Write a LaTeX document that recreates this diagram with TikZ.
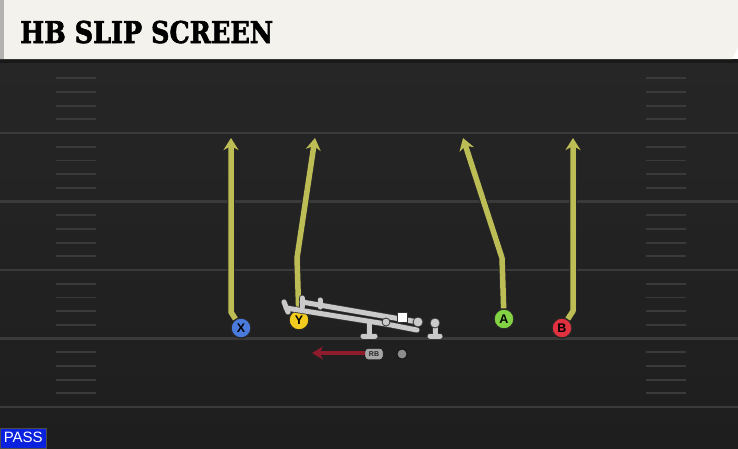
\documentclass[tikz,border=0pt]{standalone}
\usepackage{fontspec}
\setmainfont{Liberation Sans}
\newfontfamily\titlefont{DejaVu Serif}[BoldFeatures={FakeBold=2}]
\usetikzlibrary{arrows.meta}

\definecolor{fieldBg}{HTML}{262626}
\definecolor{fieldDark}{HTML}{1E1E1E}
\definecolor{fieldLine}{HTML}{3A3A3A}
\definecolor{hashCol}{HTML}{3A3A3A}
\definecolor{titleBg}{HTML}{F4F2EC}
\definecolor{routeCol}{HTML}{BDBD55}
\definecolor{olCol}{HTML}{CACACA}
\definecolor{motionCol}{HTML}{8E1C2C}
\definecolor{passBlue}{HTML}{0A22E0}
\definecolor{xBlue}{HTML}{4A7BDC}
\definecolor{yYellow}{HTML}{F2CB1F}
\definecolor{aGreen}{HTML}{82D244}
\definecolor{bRed}{HTML}{E0313F}

\tikzstyle{player}=[draw=black!85,line width=1.3pt,circle,minimum size=20pt,inner sep=0pt,font=\bfseries\fontsize{12.5}{12.5}\selectfont]
\tikzstyle{routeBack}=[draw=black!85,line width=7.5pt,line join=round,-{Stealth[length=14pt,width=18pt]}]
\tikzstyle{route}=[draw=routeCol,line width=5.5pt,line join=round,-{Stealth[length=12pt,width=15pt]}]
\tikzstyle{olBack}=[draw=black!80,line width=6.5pt,line join=round,line cap=round]
\tikzstyle{olLine}=[draw=olCol,line width=5pt,line join=round,line cap=round]
\tikzstyle{olDot}=[circle,fill=olCol,draw=black!80,line width=0.8pt,inner sep=0pt,minimum size=10pt]
\tikzstyle{hash}=[draw=hashCol,line width=1.8pt]
\tikzstyle{yardLine}=[draw=fieldLine,line width=2.5pt]

\begin{document}
\begin{tikzpicture}[x=1pt,y=-1pt]

    \useasboundingbox (0,0) rectangle (738,448);

    % field
    \shade[top color=fieldBg,bottom color=fieldDark] (0,59) rectangle (738,448);
    \fill[black!90] (0,59) rectangle (738,63);
    \foreach \yl in {133,201.5,270,338.5,407}
        \draw[yardLine] (0,\yl) -- (738,\yl);
    \foreach \yl in {64.5,133,201.5,270,338.5}
        \foreach \j in {1,...,4} {
            \draw[hash] (56,\yl+13.7*\j) -- (96,\yl+13.7*\j);
            \draw[hash] (646,\yl+13.7*\j) -- (686,\yl+13.7*\j);
        }

    % title bar
    \fill[titleBg] (0,0) -- (738,0) -- (738,47) -- (732,59) -- (0,59) -- cycle;
    \fill[black!30] (0,0) rectangle (4,59);
    \node[anchor=base west,inner sep=0pt] (title) at (20,43)
        {\scalebox{0.85}[1]{\titlefont\bfseries\fontsize{30}{30}\selectfont HB SLIP SCREEN}};

    % receivers
    \node[player,fill=xBlue] (recX) at (241,328) {X};
    \node[player,fill=yYellow] (recY) at (299,320) {Y};
    \node[player,fill=aGreen] (recA) at (504,319) {A};
    \node[player,fill=bRed] (recB) at (562,328) {B};

    \coordinate (xBreak) at (231,312);
    \coordinate (xEnd) at (231,138);
    \coordinate (yBreak) at (297,258);
    \coordinate (yEnd) at (315,138);
    \coordinate (aBreak) at (502,258);
    \coordinate (aEnd) at (463,138);
    \coordinate (bBreak) at (573,311);
    \coordinate (bEnd) at (573,138);

    \draw[routeBack] (recX) -- (xBreak) -- (xEnd);
    \draw[route] (recX) -- (xBreak) -- (xEnd);
    \draw[routeBack] (recY) -- (yBreak) -- (yEnd);
    \draw[route] (recY) -- (yBreak) -- (yEnd);
    \draw[routeBack] (recA) -- (aBreak) -- (aEnd);
    \draw[route] (recA) -- (aBreak) -- (aEnd);
    \draw[routeBack] (recB) -- (bBreak) -- (bEnd);
    \draw[route] (recB) -- (bBreak) -- (bEnd);

    % offensive line
    \coordinate (upTip) at (302,302);
    \coordinate (lowTip) at (286,308);
    \coordinate (knobEnd) at (417,330);
    \coordinate (lgStem) at (369,324);
    \coordinate (lgFoot) at (369,336);
    \coordinate (rtFoot) at (435,336);
    \foreach \style in {olBack,olLine} {
        \draw[\style] (upTip) -- (418,322);
        \draw[\style] (302,298) -- (302,307);
        \draw[\style] (320,300) -- (320,307);
        \draw[\style] (284,302) -- (288,312);
        \draw[\style] (lowTip) -- (386,324) -- (knobEnd);
        \draw[\style] (lgStem) -- (lgFoot);
        \draw[\style] (363,336) -- (375,336);
        \draw[\style] (435,324) -- (rtFoot);
        \draw[\style] (430,336) -- (440,336);
    }
    \node[olDot,minimum size=8pt] (lgKnob) at (386,322) {};
    \node[olDot] (rtGuard) at (418,322) {};
    \node[olDot] (rtTackle) at (435,323) {};
    \node[draw=black!80,fill=white,line width=0.8pt,minimum size=10pt,inner sep=0pt] (center) at (402,317) {};

    % running back
    \node[draw=black,fill=black!35,rounded corners=3pt,minimum width=18pt,minimum height=11pt,inner sep=0pt,
        font=\bfseries\fontsize{7}{7}\selectfont,text=black!85] (rb) at (374,354) {RB};
    \coordinate (rbEnd) at (312,353);
    \draw[draw=motionCol,line width=4.5pt,-{Stealth[length=11pt,width=13pt]}] (rb.west |- rbEnd) -- (rbEnd);
    \node[circle,fill=black!45,draw=black,line width=0.6pt,minimum size=10pt,inner sep=0pt] (ball) at (402,354) {};

    % play type
    \node[fill=passBlue,draw=black!70,line width=0.5pt,minimum width=46pt,minimum height=20pt,inner sep=0pt,
        anchor=south west,text=white,font=\fontsize{15}{15}\selectfont] (playType) at (0,448) {PASS};

\end{tikzpicture}
\end{document}
